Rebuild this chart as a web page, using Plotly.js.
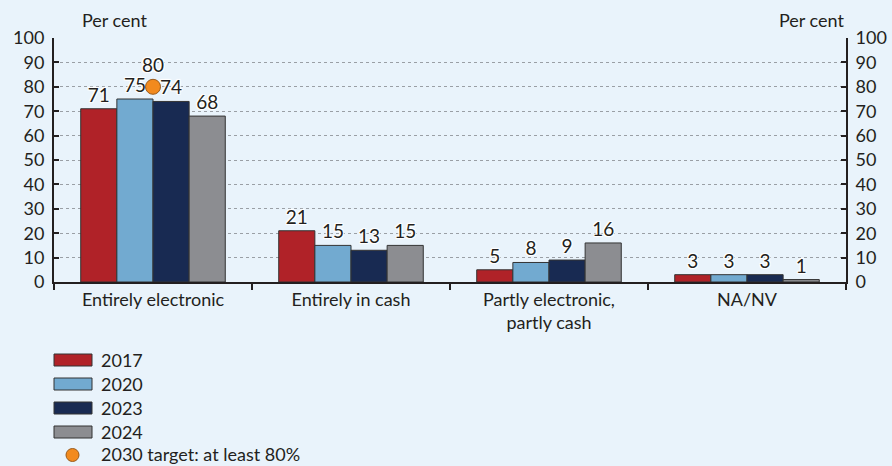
<!DOCTYPE html>
<html><head><meta charset="utf-8">
<script src="https://cdn.plot.ly/plotly-3.0.1.min.js"></script>
<style>html,body{margin:0;padding:0;background:#e9f3fb;}</style>
</head><body>
<div id="chart" style="width:892px;height:466px;"></div>
<script>
const categories = ["Entirely electronic", "Entirely in cash", "Partly electronic,<br>partly cash", "NA/NV"];
const years = ["2017", "2020", "2023", "2024"];
const v2017 = [71, 21, 5, 3];
const v2020 = [75, 15, 8, 3];
const v2023 = [74, 13, 9, 3];
const v2024 = [68, 15, 16, 1];
const targetCategory = ["Entirely electronic"];
const targetValue = [80];
const targetName = "2030 target: at least 80%";
const yTicks = [0,10,20,30,40,50,60,70,80,90,100];

const colors = ["#b02228", "#72aad0", "#182a52", "#8c8d91"];
const targetColor = "#f28a1e";
const series = [v2017, v2020, v2023, v2024];
const FAM = "Lato, 'Open Sans', sans-serif";
const halo = "1px 1px 1px #fff, -1px -1px 1px #fff, 1px -1px 1px #fff, -1px 1px 1px #fff, 0 0 2px #fff";
const txtFont = {family: FAM, size: 19, color: "#231f20", shadow: halo};
const axFont = {family: FAM, size: 18, color: "#231f20"};

const traces = series.map((vals, i) => ({
  type: "bar", name: years[i], x: categories, y: vals,
  marker: {color: colors[i], line: {color: "#333", width: 1}},
  text: vals.map(String), textposition: "outside", cliponaxis: false,
  textfont: txtFont, hoverinfo: "skip", showlegend: false
}));
traces.push({
  type: "scatter", mode: "markers+text", name: targetName,
  x: targetCategory, y: targetValue, text: targetValue.map(String),
  textposition: "top center", textfont: txtFont, cliponaxis: false, showlegend: false,
  marker: {color: targetColor, size: 15, line: {color: "#9a5a1a", width: 1}}, hoverinfo: "skip"
});
traces.push({type: "scatter", x: [categories[0]], y: [null], yaxis: "y2", showlegend: false, hoverinfo: "skip"});

// plot area geometry (pixels) for a hand-built legend below the chart
const W = 892, H = 466, L = 54, R = 46, T = 38, B = 184;
const pw = W - L - R, ph = H - T - B;
const px2x = p => (p - L) / pw;
const py2y = p => (H - B - p) / ph;

const shapes = [];
const annotations = [
  {text: "Per cent", xref: "paper", yref: "paper", x: px2x(80), y: 1.0, yshift: 5, xanchor: "left", yanchor: "bottom",
   showarrow: false, font: axFont},
  {text: "Per cent", xref: "paper", yref: "paper", x: 1.0, y: 1.0, yshift: 5, xanchor: "right", yanchor: "bottom",
   showarrow: false, font: axFont}
];
const legendRows = [360, 384, 408, 432];
years.forEach((yr, i) => {
  const cy = legendRows[i];
  shapes.push({type: "rect", xref: "paper", yref: "paper", x0: px2x(54), x1: px2x(92), y0: py2y(cy - 6), y1: py2y(cy + 6),
               fillcolor: colors[i], line: {color: "#333", width: 1}});
  annotations.push({text: yr, xref: "paper", yref: "paper", x: px2x(99), y: py2y(cy), xanchor: "left", yanchor: "middle",
                    showarrow: false, font: axFont});
});
shapes.push({type: "circle", xref: "paper", yref: "paper", x0: px2x(66), x1: px2x(79), y0: py2y(461.5), y1: py2y(448.5),
             fillcolor: targetColor, line: {color: "#9a5a1a", width: 1}});
annotations.push({text: targetName, xref: "paper", yref: "paper", x: px2x(99), y: py2y(454), xanchor: "left", yanchor: "middle",
                  showarrow: false, font: axFont});

const layout = {
  width: W, height: H,
  paper_bgcolor: "#e9f3fb", plot_bgcolor: "#e9f3fb",
  margin: {l: L, r: R, t: T, b: B, autoexpand: false},
  barmode: "group", bargap: 0.27, bargroupgap: 0,
  font: axFont,
  showlegend: false,
  xaxis: {type: "category", tickson: "boundaries", ticks: "outside", ticklen: 6, tickwidth: 2, tickcolor: "#231f20",
          showline: true, linecolor: "#231f20", linewidth: 2, showgrid: false, tickfont: axFont, fixedrange: true},
  yaxis: {range: [0, 100], tickvals: yTicks, ticks: "inside", ticklen: 5, tickwidth: 2, tickcolor: "#231f20",
          showline: true, linecolor: "#231f20", linewidth: 2, showgrid: true, gridcolor: "#9a9fa5", griddash: "dot",
          gridwidth: 1, zeroline: false, tickfont: axFont, ticklabelstandoff: 4},
  yaxis2: {range: [0, 100], tickvals: yTicks, overlaying: "y", side: "right", ticks: "inside", ticklen: 5, tickwidth: 2,
           tickcolor: "#231f20", showline: true, linecolor: "#231f20", linewidth: 2, showgrid: false, zeroline: false,
           tickfont: axFont, ticklabelstandoff: 4},
  shapes: shapes,
  annotations: annotations
};
Plotly.newPlot("chart", traces, layout, {displayModeBar: false, staticPlot: true});
</script>
</body></html>
